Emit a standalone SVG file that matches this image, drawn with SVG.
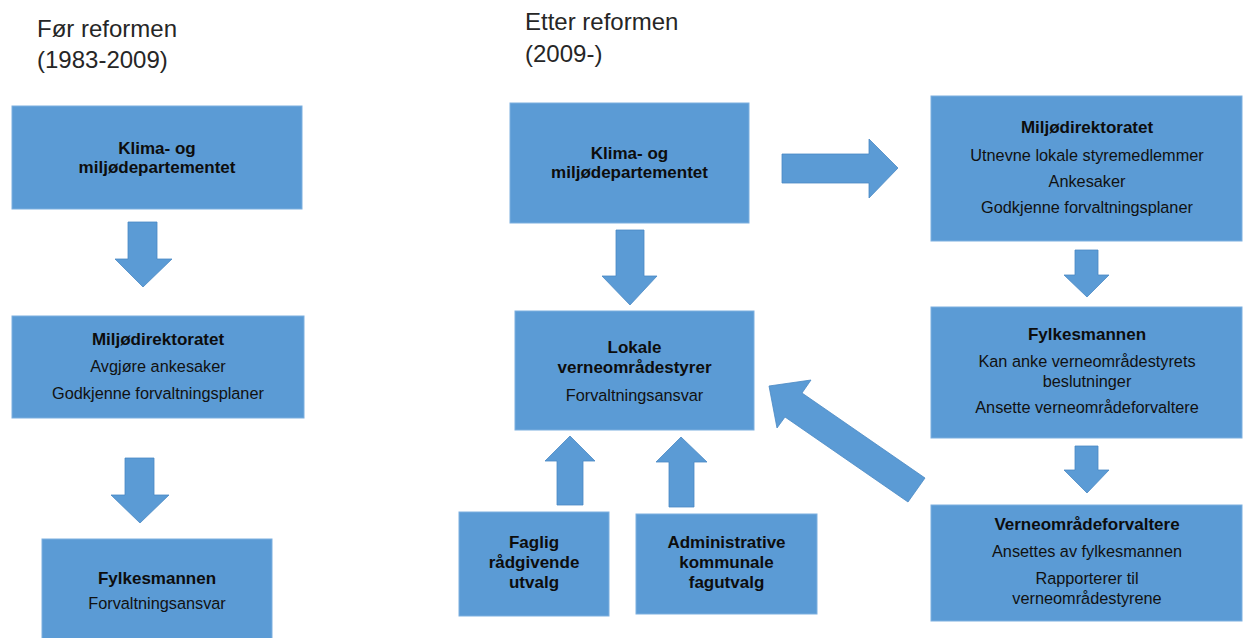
<svg xmlns="http://www.w3.org/2000/svg" width="1243" height="638" viewBox="0 0 1243 638">
<style>
.box{fill:#5B9BD5;stroke:#7DAFDF;stroke-width:1}
.arr{fill:#5B9BD5;stroke:#4A89C4;stroke-width:0.8}
.title{font-family:"Liberation Sans",Arial,sans-serif;font-size:24px;fill:#262626}
.b{font-family:"Liberation Sans",Arial,sans-serif;font-size:17px;font-weight:bold;fill:#0d0d0d;text-anchor:middle}
.r{font-family:"Liberation Sans",Arial,sans-serif;font-size:16.3px;fill:#111;text-anchor:middle}
</style>
<rect width="1243" height="638" fill="#fff"/>
<text class="title" x="37" y="37">Før reformen</text>
<text class="title" x="37" y="68">(1983-2009)</text>
<text class="title" x="525" y="30">Etter reformen</text>
<text class="title" x="525" y="62">(2009-)</text>

<g id="connectors">
<polygon class="arr" points="128,222 157,222 157,259 172,259 143,287 115,259 128,259"/>
<polygon class="arr" points="125,458 154,458 154,495 169,495 140,523 111,495 125,495"/>
<polygon class="arr" points="616,230 644,230 644,276 657,276 630,305 602,276 616,276"/>
<polygon class="arr" points="557,505 583,505 583,461 595,461 570,436 545,461 557,461"/>
<polygon class="arr" points="669,507 694,507 694,462 707,462 681,437 656,462 669,462"/>
<polygon class="arr" points="782,154 869,154 869,139 898,168 869,198 869,183 782,183"/>
<polygon class="arr" points="1075,250 1098,250 1098,275 1109,275 1087,297 1064,275 1075,275"/>
<polygon class="arr" points="1075,446 1098,446 1098,470 1109,470 1087,493 1064,470 1075,470"/>
<polygon class="arr" points="769,386 811,380 802,393 925,478 908,502 785,417 777,428" fill="#5FA0DA"/>
</g>

<g id="old-kmd">
<rect class="box" x="12" y="106" width="290" height="103"/>
<text class="b" x="157" y="154">Klima- og</text>
<text class="b" x="157" y="173">miljødepartementet</text>
</g>
<g id="old-miljodir">
<rect class="box" x="12" y="316" width="292" height="102"/>
<text class="b" x="158" y="345">Miljødirektoratet</text>
<text class="r" x="158" y="372">Avgjøre ankesaker</text>
<text class="r" x="158" y="399">Godkjenne forvaltningsplaner</text>
</g>
<g id="old-fylkesmannen">
<rect class="box" x="42" y="539" width="230" height="110"/>
<text class="b" x="157" y="584">Fylkesmannen</text>
<text class="r" x="157" y="609">Forvaltningsansvar</text>
</g>

<g id="new-kmd">
<rect class="box" x="510" y="103" width="239" height="120"/>
<text class="b" x="629.5" y="159">Klima- og</text>
<text class="b" x="629.5" y="178">miljødepartementet</text>
</g>
<g id="lokale">
<rect class="box" x="515" y="311" width="239" height="119"/>
<text class="b" x="634.5" y="353">Lokale</text>
<text class="b" x="634.5" y="373">verneområdestyrer</text>
<text class="r" x="634.5" y="401">Forvaltningsansvar</text>
</g>
<g id="faglig">
<rect class="box" x="459" y="512" width="150" height="104"/>
<text class="b" x="534" y="548">Faglig</text>
<text class="b" x="534" y="568">rådgivende</text>
<text class="b" x="534" y="588">utvalg</text>
</g>
<g id="admin">
<rect class="box" x="636" y="514" width="181" height="100"/>
<text class="b" x="726.5" y="548">Administrative</text>
<text class="b" x="726.5" y="568">kommunale</text>
<text class="b" x="726.5" y="588">fagutvalg</text>
</g>
<g id="new-miljodir">
<rect class="box" x="931" y="96" width="311" height="145"/>
<text class="b" x="1087" y="133">Miljødirektoratet</text>
<text class="r" x="1087" y="161">Utnevne lokale styremedlemmer</text>
<text class="r" x="1087" y="187">Ankesaker</text>
<text class="r" x="1087" y="213">Godkjenne forvaltningsplaner</text>
</g>
<g id="new-fylkesmannen">
<rect class="box" x="931" y="307" width="311" height="131"/>
<text class="b" x="1087" y="340">Fylkesmannen</text>
<text class="r" x="1087" y="367">Kan anke verneområdestyrets</text>
<text class="r" x="1087" y="387">beslutninger</text>
<text class="r" x="1087" y="413">Ansette verneområdeforvaltere</text>
</g>
<g id="verneomradeforvaltere">
<rect class="box" x="931" y="505" width="311" height="116"/>
<text class="b" x="1087" y="530">Verneområdeforvaltere</text>
<text class="r" x="1087" y="557">Ansettes av fylkesmannen</text>
<text class="r" x="1087" y="584">Rapporterer til</text>
<text class="r" x="1087" y="604">verneområdestyrene</text>
</g>
</svg>
